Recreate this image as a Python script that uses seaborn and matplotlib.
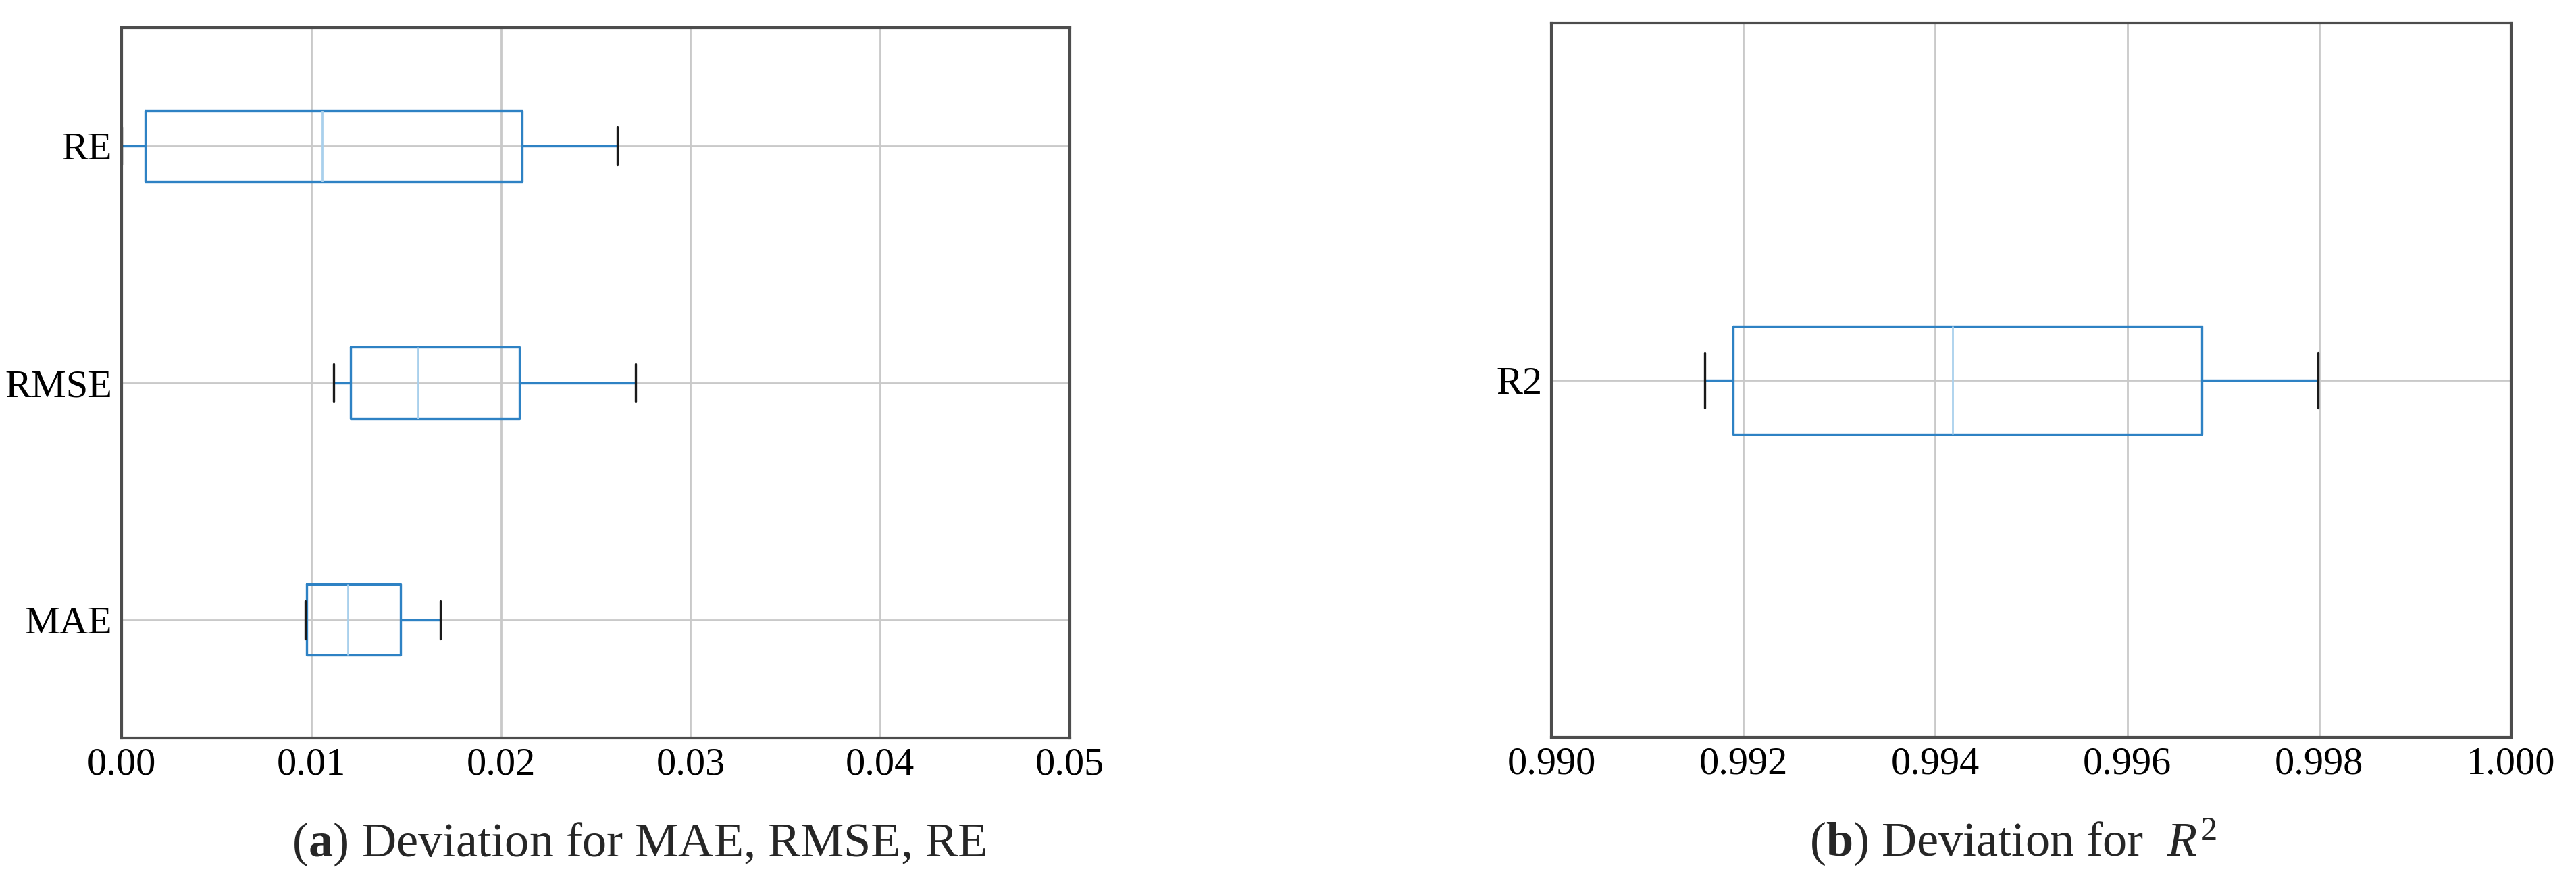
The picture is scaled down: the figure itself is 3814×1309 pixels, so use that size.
import numpy as np
import pandas as pd
import seaborn as sns
import matplotlib.pyplot as plt
from matplotlib.ticker import FormatStrFormatter

# five-number summaries: min, q1, median, q3, max
metrics_a = ['RE', 'RMSE', 'MAE']
re_vals = [0.0000, 0.00124, 0.01056, 0.02113, 0.02613]
rmse_vals = [0.01120, 0.01207, 0.01564, 0.02098, 0.02710]
mae_vals = [0.00970, 0.00977, 0.01192, 0.01470, 0.01680]

metrics_b = ['R2']
r2_vals = [0.99160, 0.99189, 0.99418, 0.99678, 0.99799]

ticks_a = [0.00, 0.01, 0.02, 0.03, 0.04, 0.05]
ticks_b = [0.990, 0.992, 0.994, 0.996, 0.998, 1.000]

caption_a = r"($\mathbf{a}$) Deviation for MAE, RMSE, RE"
caption_b = r"($\mathbf{b}$) Deviation for  $R^2$"

box_color = '#2e82c4'
median_color = '#a9d0ec'
cap_color = '#1a1a1a'
grid_color = '#c9c9c9'
spine_color = '#4d4d4d'


def long_df(names, series):
    rows = []
    for name, vals in zip(names, series):
        for v in vals:
            rows.append({'metric': name, 'value': v})
    return pd.DataFrame(rows)


df_a = long_df(metrics_a, [re_vals, rmse_vals, mae_vals])
df_b = long_df(metrics_b, [r2_vals])

sns.set_style('whitegrid')
plt.rcParams['font.family'] = ['Liberation Serif', 'DejaVu Serif']
plt.rcParams['mathtext.fontset'] = 'custom'
plt.rcParams['mathtext.rm'] = 'Liberation Serif'
plt.rcParams['mathtext.it'] = 'Liberation Serif:italic'
plt.rcParams['mathtext.bf'] = 'Liberation Serif:bold'

fig = plt.figure(figsize=(38.14, 13.09), dpi=100)
W, H = 3814, 1309
ax1 = fig.add_axes([180 / W, 1 - 1093 / H, (1584 - 180) / W, (1093 - 41) / H])
ax2 = fig.add_axes([2297 / W, 1 - 1092 / H, (3718 - 2297) / W, (1092 - 34) / H])


def draw(ax, df, order, width, capw):
    sns.boxplot(
        data=df, x='value', y='metric', order=order, orient='h',
        whis=(0, 100), width=width, fill=False, color=box_color,
        linewidth=2.4, capwidths=capw,
        medianprops={'color': median_color, 'linewidth': 2.0},
        capprops={'color': cap_color, 'linewidth': 2.4},
        whiskerprops={'color': box_color, 'linewidth': 2.4},
        boxprops={'color': box_color, 'linewidth': 2.4},
        ax=ax,
    )
    ax.set_xlabel('')
    ax.set_ylabel('')
    ax.grid(True, axis='both', color=grid_color, linewidth=2.0)
    ax.set_axisbelow(True)
    for sp in ax.spines.values():
        sp.set_visible(True)
        sp.set_color(spine_color)
        sp.set_linewidth(3.0)
    ax.tick_params(axis='both', length=0, labelsize=42, colors='black')
    ax.tick_params(axis='x', pad=10)
    ax.tick_params(axis='y', pad=10)


draw(ax1, df_a, metrics_a, 0.30, 0.16)
ax1.set_xlim(ticks_a[0], ticks_a[-1])
ax1.set_xticks(ticks_a)
ax1.xaxis.set_major_formatter(FormatStrFormatter('%.2f'))
ax1.set_ylim(2.5, -0.5)

draw(ax2, df_b, metrics_b, 0.151, 0.077)
ax2.set_xlim(ticks_b[0], ticks_b[-1])
ax2.set_xticks(ticks_b)
ax2.xaxis.set_major_formatter(FormatStrFormatter('%.3f'))
ax2.set_ylim(0.5, -0.5)

fig.text(946 / W, 41 / H, caption_a, ha='center', va='baseline', fontsize=52)
fig.text(2980 / W, 41 / H, caption_b, ha='center', va='baseline', fontsize=52)

fig.savefig('out.png', dpi=100)
